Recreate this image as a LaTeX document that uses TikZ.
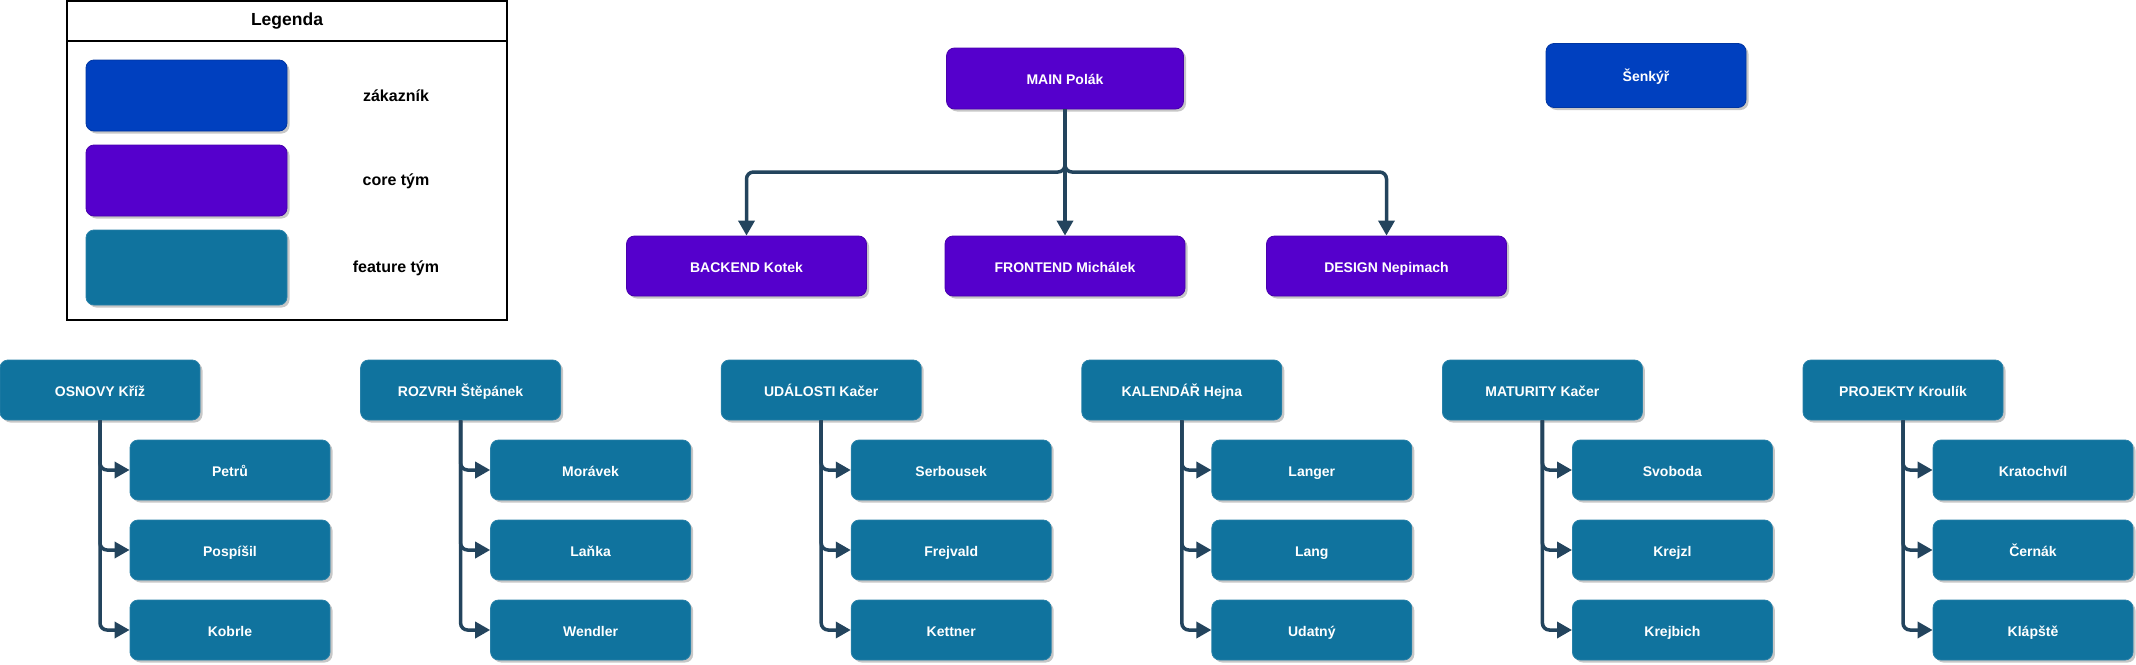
\documentclass[tikz,border=0pt]{standalone}
\usepackage{fontspec}
\setmainfont{Liberation Sans}
\usetikzlibrary{calc,backgrounds,arrows.meta,shadows}
\definecolor{zakaznik}{HTML}{0040BF}
\definecolor{jadro}{HTML}{5500CC}
\definecolor{funkce}{HTML}{10739E}
\definecolor{spojnice}{HTML}{23445D}

\begin{document}
\begin{tikzpicture}[%
        x=1pt, y=-1pt,%
        show background rectangle,%
        tight background,%
        background rectangle/.style={fill=white}%
    ]
        %
% Styles
%
\tikzset{every node/.style={font=\bfseries\fontsize{14}{17}\selectfont}};%
\tikzset{blok/.style={rounded corners=8pt, minimum width=200pt, minimum height=60pt, inner sep=0pt, text height=12.5pt, text depth=0pt, text=white, line width=0.8pt, drop shadow={shadow xshift=2.5pt, shadow yshift=-2.5pt, fill=black, opacity=0.22}}};%
\tikzset{blok zakaznik/.style={blok, fill=zakaznik, draw=zakaznik!85!black}};%
\tikzset{blok jadro/.style={blok, fill=jadro, draw=jadro!85!black, minimum width=240pt}};%
\tikzset{blok funkce/.style={blok, fill=funkce, draw=funkce!90!white}};%
\tikzset{popis/.style={font=\bfseries\fontsize{16}{19}\selectfont}};%
\tikzset{sipka/.style={spojnice, line width=3.5pt, rounded corners=7pt, -{Triangle[length=15pt, width=16pt]}}};%

%
% Macros
%
\pgfmathsetmacro{\krok}{360.6};%
\pgfmathsetmacro{\sbernice}{172};%

\useasboundingbox (0,0) rectangle (2136,664);%

%
% Legend
%
\draw[line width=1.2pt] (67,1) rectangle (507,320);%
\draw[line width=1.2pt] (67,41) -- (507,41);%
\node[font=\bfseries\fontsize{17.5}{20}\selectfont] (legenda) at (287,21) {Legenda};%
\node[blok zakaznik, minimum width=201pt, minimum height=71pt] (vzor zakaznik) at (186.5,95.5) {};%
\node[blok jadro, minimum width=201pt, minimum height=71pt] (vzor jadro) at (186.5,180.5) {};%
\node[blok funkce, minimum width=201pt, minimum height=75pt] (vzor funkce) at (186.5,267.5) {};%
\node[popis] (popis zakaznik) at (396,96) {zákazník};%
\node[popis] (popis jadro) at (396,181) {core tým};%
\node[popis] (popis funkce) at (396,268) {feature tým};%

%
% Core team
%
\node[blok jadro, minimum width=237pt, minimum height=61pt] (main) at (1065,78.5) {MAIN Polák};%
\node[blok jadro] (backend) at (746.5,266) {BACKEND Kotek};%
\node[blok jadro] (frontend) at (1065,266) {FRONTEND Michálek};%
\node[blok jadro] (design) at (1386.5,266) {DESIGN Nepimach};%
\node[blok zakaznik, minimum height=64pt] (senkyr) at (1646,75.5) {Šenkýř};%
\coordinate (bus) at (1065,\sbernice);%
\draw[sipka] (main.south) -- (bus) -| (backend.north);%
\draw[sipka] (main.south) -- (frontend.north);%
\draw[sipka] (main.south) -- (bus) -| (design.north);%

%
% Feature teams
%
\foreach \i/\vedouci/\a/\b/\c in {%
        0/{OSNOVY Kříž}/Petrů/Pospíšil/Kobrle,%
        1/{ROZVRH Štěpánek}/Morávek/Laňka/Wendler,%
        2/{UDÁLOSTI Kačer}/Serbousek/Frejvald/Kettner,%
        3/{KALENDÁŘ Hejna}/Langer/Lang/Udatný,%
        4/{MATURITY Kačer}/Svoboda/Krejzl/Krejbich,%
        5/{PROJEKTY Kroulík}/Kratochvíl/Černák/Klápště}{%
    \node[blok funkce] (tym\i) at (100+\i*\krok,390) {\vedouci};%
    \node[blok funkce] (clen\i-1) at (230+\i*\krok,470) {\a};%
    \node[blok funkce] (clen\i-2) at (230+\i*\krok,550) {\b};%
    \node[blok funkce] (clen\i-3) at (230+\i*\krok,630) {\c};%
    \foreach \j in {1,2,3}
        \draw[sipka] (tym\i.south) |- (clen\i-\j.west);%
}
\end{tikzpicture}
\end{document}
